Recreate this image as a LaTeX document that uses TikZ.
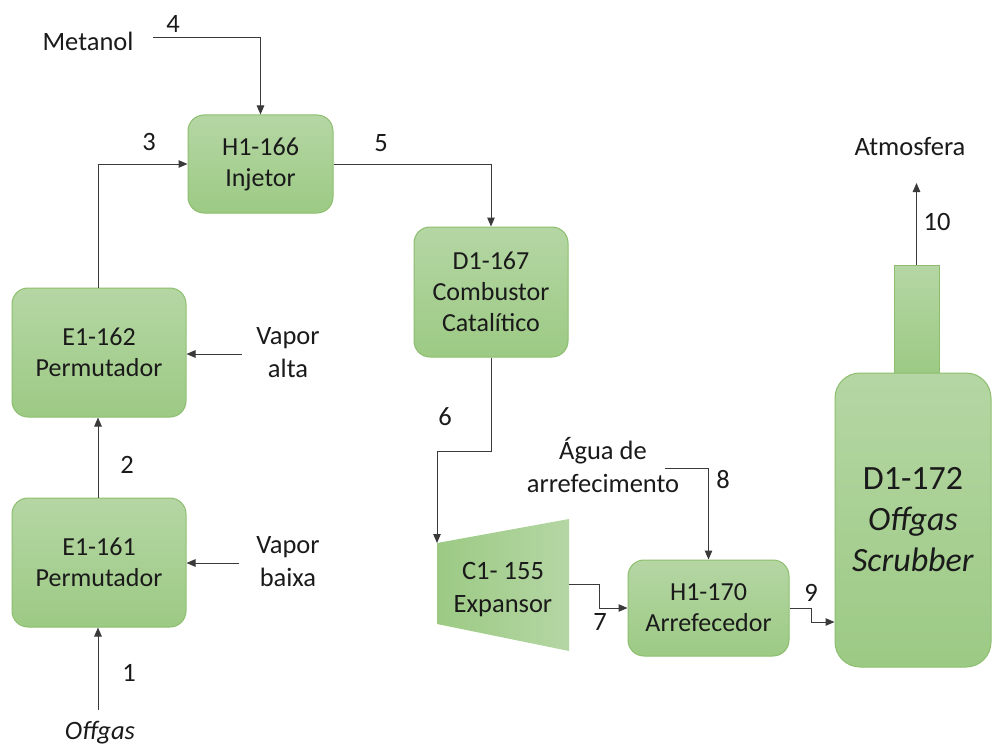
\documentclass[tikz,border=0pt]{standalone}
\usepackage{fontspec}
\setmainfont{Carlito}
\usetikzlibrary{arrows.meta}
\definecolor{boxtop}{HTML}{B5D6A4}
\definecolor{boxbot}{HTML}{9CCA84}
\definecolor{boxline}{HTML}{8CBE6E}
\definecolor{ink}{HTML}{1A1A1A}
\definecolor{pipe}{HTML}{3A3A3A}
\tikzset{
  unit/.style={draw=boxline, line width=1pt, top color=boxtop, bottom color=boxbot,
    rounded corners=16pt, align=center, text=ink,
    font=\fontsize{26}{31}\selectfont, inner sep=0pt},
  txt/.style={text=ink, font=\fontsize{26.5}{33}\selectfont, align=center, inner sep=0pt},
  num/.style={txt},
  flow/.style={draw=pipe, line width=1pt, -{Triangle[length=9pt,width=7.5pt]}}
}
\begin{document}
\begin{tikzpicture}[x=1pt, y=-1pt]
\useasboundingbox (0,0) rectangle (992,749);

% process units
\node[unit, minimum width=174pt, minimum height=129pt] (E161) at (99,562.5) {E1-161\\Permutador};
\node[unit, minimum width=174pt, minimum height=129pt] (E162) at (99,352.5) {E1-162\\Permutador};
\node[unit, minimum width=145pt, minimum height=98pt] (H166) at (260.5,164) {H1-166\\Injetor};
\node[unit, minimum width=154pt, minimum height=130pt] (D167) at (491,292) {D1-167\\Combustor\\Catalítico};
\node[unit, minimum width=161pt, minimum height=96pt] (H170) at (708.5,608) {H1-170\\Arrefecedor};

% scrubber with its stack
\node[unit, rounded corners=0pt, minimum width=45pt, minimum height=108pt] (stack) at (916.5,319) {};
\node[unit, rounded corners=25pt, minimum width=156pt, minimum height=294pt,
  font=\fontsize{34}{41}\selectfont] (D172) at (913,520) {D1-172\\\textit{Offgas}\\\textit{Scrubber}};

% expander
\coordinate (xtl) at (437,543);
\coordinate (xbl) at (437,624);
\coordinate (xtr) at (569,519);
\coordinate (xbr) at (569,651);
\shade[left color=boxbot, right color=boxtop] (xtl) -- (xtr) -- (xbr) -- (xbl) -- cycle;
\node[txt] (C155) at (503,590) {C1- 155\\Expansor};
\coordinate (xout) at (569,584);

% stream labels and feeds
\node[txt] (metanol) at (88,41) {Metanol};
\node[txt] (valta) at (288,353) {Vapor\\alta};
\node[txt] (vbaixa) at (288,562) {Vapor\\baixa};
\node[txt] (offgas) at (100,733) {\textit{Offgas}};
\node[txt] (agua) at (603,465) {Água de\\arrefecimento};
\node[txt] (atm) at (910,147) {Atmosfera};

\coordinate (s1) at (98,710);
\coordinate (s4) at (153,38);
\coordinate (sva) at (242,354);
\coordinate (svb) at (239,563);
\coordinate (s8) at (665,468);
\coordinate (s10) at (916.5,183);
\coordinate (y6) at (0,451);
\coordinate (y9) at (0,622);

% streams
\draw[flow] (s1) -- (E161.south -| s1);
\draw[flow] (E161.north -| s1) -- (E162.south -| s1);
\draw[flow] (E162.north -| s1) |- (H166.west);
\draw[flow] (s4) -| (H166.north);
\draw[flow] (H166.east) -| (D167.north);
\draw[flow] (D167.south) -- (D167.south |- y6) -| (xtl);
\draw[flow] (xout) -- ++(30,0) |- (H170.west);
\draw[flow] (s8) -| (H170.north);
\draw[flow] (H170.east) -- ++(22,0) |- (D172.west |- y9);
\draw[flow] (stack.north) -- (s10);
\draw[flow] (sva) -- (E162.east |- sva);
\draw[flow] (svb) -- (E161.east |- svb);

% stream numbers
\node[num] (n1) at (129,673) {1};
\node[num] (n2) at (127,465) {2};
\node[num] (n3) at (149,142) {3};
\node[num] (n4) at (173,24) {4};
\node[num] (n5) at (381,143) {5};
\node[num] (n6) at (445,417) {6};
\node[num] (n7) at (600,622) {7};
\node[num] (n8) at (723,480) {8};
\node[num] (n9) at (811,593) {9};
\node[num] (n10) at (937,222) {10};
\end{tikzpicture}
\end{document}
